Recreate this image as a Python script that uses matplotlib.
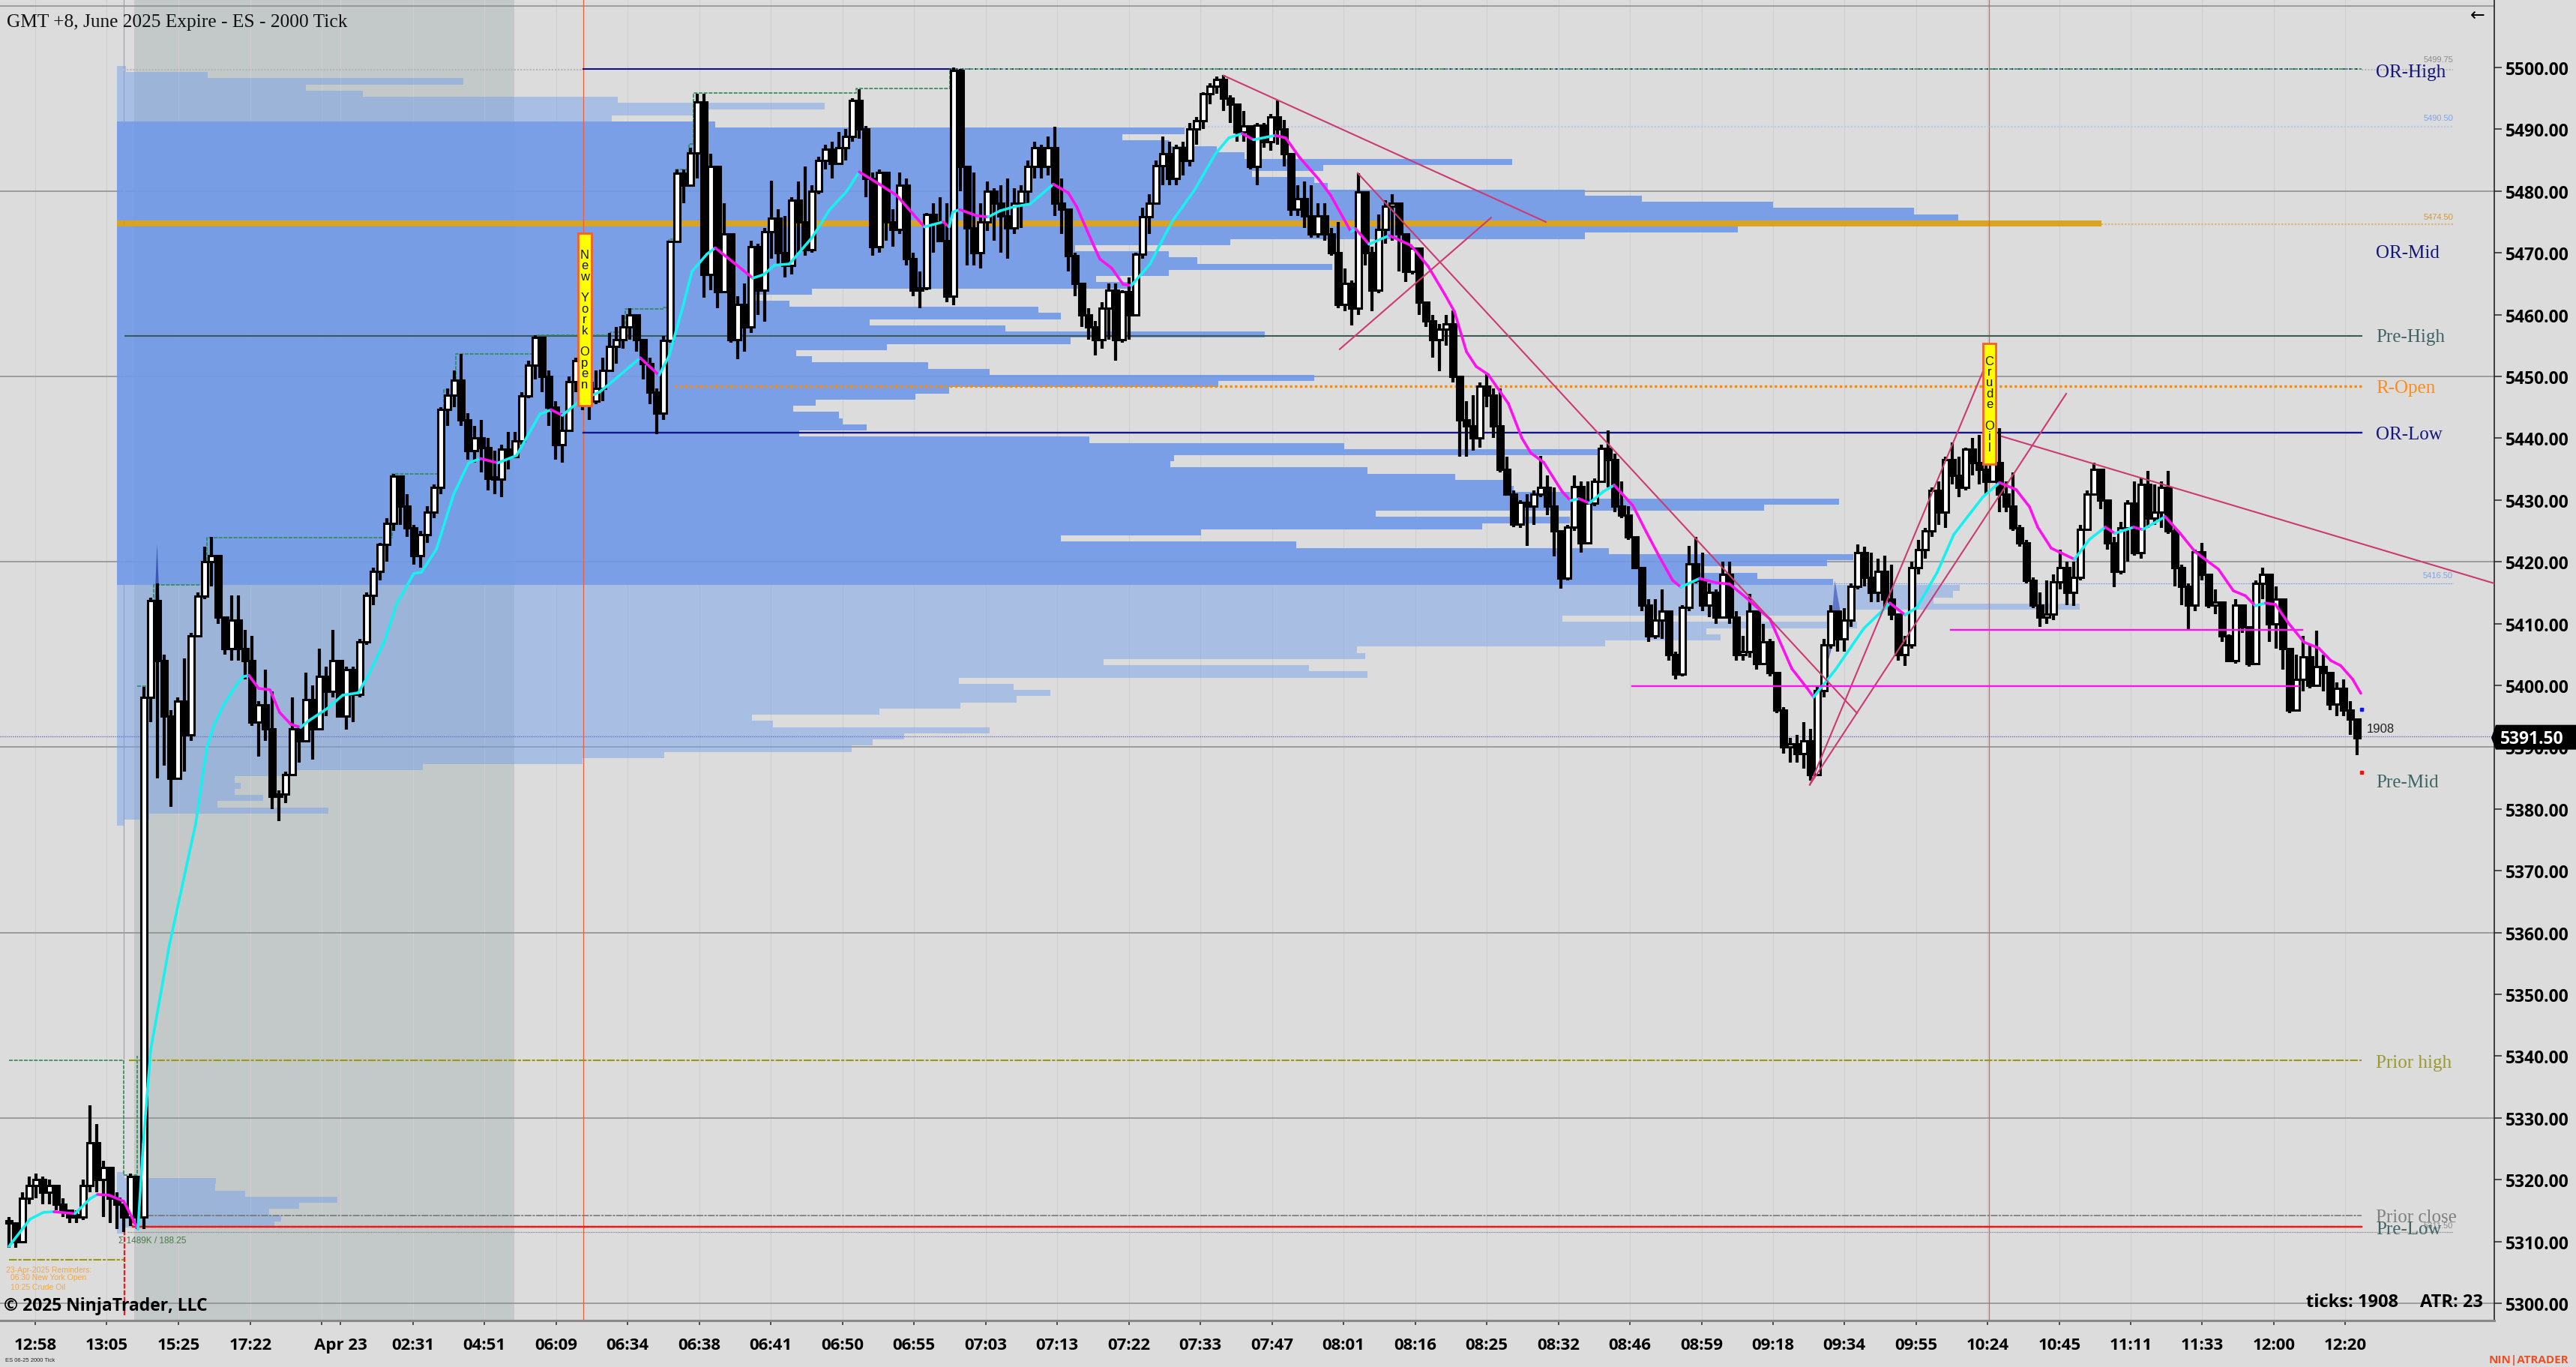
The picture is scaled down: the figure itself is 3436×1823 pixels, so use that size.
import numpy as np
import matplotlib
matplotlib.use("Agg")
import matplotlib.pyplot as plt
from matplotlib.collections import LineCollection
from matplotlib.patches import Polygon, Rectangle

# x axis is in chart columns, y axis is price
W, H = 3436, 1824
X_MAX = 3327
Y_MIN, Y_MAX = 5297.2, 5511.04

closes = [
    5313,5310,5317,5319,5320,5318,5319,5316,5315,5314,
    5314,5319,5326,5320,5322,5317,5316,5314,5320.5,5314,
    5398,5413.7,5404,5395,5385,5397.5,5392,5408,5414.4,5420,
    5421,5411,5406,5410.5,5406,5404,5394,5396.8,5393,5382,
    5382.4,5385.6,5393,5391,5397.7,5393,5401.5,5399,5404,5395,
    5402.5,5398.5,5407,5414.6,5418.4,5422.8,5426.2,5433.9,5429,5425.5,
    5421,5424.4,5428,5432,5444.6,5447,5449.4,5443,5438,5440,
    5438.5,5433.5,5433.4,5438.2,5437,5439.5,5446.9,5451.8,5456.3,5450,
    5445,5439,5441.2,5449.2,5452.6,5449,5446,5448,5451,5454.8,
    5456,5458,5460,5456,5452,5447.5,5444,5455.8,5471.8,5482.9,
    5481,5486.2,5494.4,5466.5,5484,5463.7,5473,5456,5461.7,5458,
    5471,5464,5473.4,5475.6,5470,5468,5478.5,5475,5470.5,5480,
    5485,5486.8,5484.5,5487,5488.8,5494.7,5490,5482,5471,5483,
    5475,5473.8,5481,5469,5464,5464.3,5476.2,5475,5472,5463,
    5499.5,5484,5474,5470,5475,5480,5478,5476,5474,5478,
    5480,5484,5487,5484,5487,5478,5477,5469.5,5465,5460,
    5458,5456,5461,5463.9,5456,5463.7,5460,5469.8,5475.8,5478,
    5484.1,5486,5482,5487,5485,5490,5491.4,5495.7,5497,5498,
    5495,5494,5489.5,5490.5,5484,5490.6,5488,5492,5490,5486,
    5477,5478.7,5476,5473,5476,5473,5470,5461.6,5465,5461,
    5479.9,5470,5464,5473.8,5477.5,5478,5473,5467,5470.8,5462,
    5459,5456,5457.6,5458.5,5450,5443,5442,5440,5448.4,5447,
    5442,5435,5431,5426.1,5429.6,5429,5431,5432,5429,5425,
    5417.4,5425.6,5432.2,5423,5429.5,5433,5438.4,5436.5,5429,5427.5,
    5424,5419,5413,5408,5410.5,5412,5405,5401.8,5412.6,5419.6,
    5417,5413,5415,5411,5418,5411,5405,5405.5,5412,5403.5,
    5407,5402,5396,5390,5390.5,5389,5391,5385.5,5399.2,5406.6,
    5412,5407.5,5410.5,5416,5421.5,5417.5,5415,5418.5,5414,5411.5,
    5405,5406.5,5419,5422,5425,5431.5,5428,5436.5,5434,5432,
    5438.2,5436,5435,5433,5436,5431,5429,5425.5,5423,5417,
    5413,5411,5411.5,5416.7,5419,5415,5417.5,5425.2,5431,5435,
    5430,5423,5418.5,5425.5,5429.5,5421.5,5432.5,5427,5428,5432,
    5425,5419,5416,5413,5421.6,5418,5413,5413.5,5408,5404,
    5413,5409.5,5403.5,5416.5,5418,5410,5414,5406,5396,5401,
    5404.6,5400,5403,5402,5397,5399.5,5396,5394.5,5391.5,
]
highs = [
    5314,5312,5318,5320.5,5321,5320.5,5320,5319,5317,5315,
    5315,5320,5332,5329,5323,5322,5318,5316,5321,5316,
    5399.8,5414.2,5416.5,5405,5396,5398,5404.4,5408.5,5415,5422.5,
    5424,5421,5411,5414.6,5414.6,5409,5408,5397.5,5402.5,5399,
    5383,5386,5398,5393.5,5402,5400,5406,5403,5409,5404,
    5403,5403,5407.5,5415,5419,5423,5427,5434.2,5434,5431,
    5426,5425,5429,5432.5,5445,5448,5451,5453.6,5444,5442,
    5443,5440,5438,5439,5441,5441,5447.5,5452.5,5456.7,5456,
    5451,5446,5444,5450,5453,5454,5450,5451,5453,5457,
    5458,5460,5461,5460,5456,5453,5448,5456.5,5472,5483.5,
    5483.5,5487,5495.7,5495.7,5486,5484,5478,5473,5463,5465,
    5472,5471.5,5474,5481.7,5477,5476,5479,5481.5,5484,5481,
    5485.5,5487.5,5488,5489.5,5490,5495,5496.5,5490.5,5483,5483.5,
    5480,5477,5483,5482,5470,5467,5476.5,5478,5479,5478,
    5500,5499.8,5484,5483,5478,5481.5,5480.5,5481,5482,5480.5,
    5481,5485,5488,5487.5,5488.8,5490.4,5482,5477,5470,5465,
    5461,5459,5462,5465,5465,5464,5466,5470,5477.3,5479.5,
    5485,5488.8,5488,5487.5,5488,5491,5492,5496,5497.5,5498.5,
    5498.8,5495.5,5493,5493,5490,5491,5491,5492.5,5494.7,5491.5,
    5485,5481,5481.5,5481,5478,5478,5474,5475,5467.5,5465.5,
    5482.9,5480,5471,5476.2,5478.5,5479.5,5477,5469,5471,5466,
    5461,5460,5458.5,5460,5460.7,5450,5446,5447,5449,5450.4,
    5448,5448,5437,5431.5,5430,5431,5431.5,5437.1,5434,5432,
    5421.5,5426,5434,5433,5433,5433.5,5439,5441.3,5437.5,5433,
    5429,5424,5419.2,5414,5414,5415.5,5411,5405.5,5413,5422.6,
    5424,5421.5,5416.5,5415.5,5420,5420,5412,5408,5414.8,5412,
    5410,5407.5,5400,5396.5,5391.5,5392,5394,5393,5400,5407.5,
    5413,5411,5412.5,5416.5,5422.8,5422.5,5421.5,5420.5,5421,5419.5,
    5411,5408,5420,5423.5,5425.5,5432,5433,5437,5439.3,5437,
    5438.5,5440,5440.5,5441,5441,5441.6,5433,5434.5,5426,5423.5,
    5417.5,5415,5417,5418,5422,5420,5420,5426,5431.5,5436,
    5434.5,5429,5424,5426.5,5430,5433,5433.5,5434.7,5432.5,5433,
    5434.7,5425.5,5419.5,5416.5,5422,5423,5418,5415.5,5412,5408.3,
    5414,5413,5407,5417,5419,5417.5,5416,5412,5402.5,5405,
    5408,5406.5,5408.9,5405,5402,5400.5,5401,5397.5,5394,
]
lows = [
    5309,5309,5310,5316,5317,5316,5316,5315,5314,5313,
    5313,5313.5,5318,5318,5314,5313,5312,5311.5,5312.5,5312,
    5312,5394,5385,5387,5380.3,5385,5386,5391,5408,5414,
    5416,5410,5405,5404,5404,5401,5393.5,5388.5,5391,5380,
    5378,5381,5387,5387.5,5391,5388,5393,5395,5398,5395,
    5392.8,5394,5398,5406.5,5413,5417,5420,5425,5426,5424,
    5419.5,5419,5423,5427,5431,5442,5445,5442,5436.5,5436,
    5434.5,5431.5,5431,5430.4,5435,5437.5,5439,5446.5,5449.5,5447.5,
    5442,5436.5,5436,5441,5447.5,5444.5,5443,5445.5,5446,5451,
    5452,5454.5,5456,5454,5449.5,5445.5,5440.6,5443,5455.5,5472,
    5478,5481,5482,5462.7,5464,5461,5463.5,5455.5,5452.8,5454,
    5457,5460,5458.9,5469,5468,5466,5466.5,5470,5469.5,5470,
    5479.5,5483.5,5482,5484.5,5485,5488,5488.5,5479,5469.5,5470,
    5472,5471,5473,5468,5463,5461,5464,5470,5473,5462,
    5461.5,5480,5468,5468,5467.5,5473.5,5472,5470,5469,5473,
    5474,5478,5482,5482,5482.5,5476,5473,5467,5463,5458,
    5456,5453.4,5454.5,5456,5452.5,5455.5,5456,5460,5469,5473,
    5479,5481,5481,5481,5482.5,5484,5487.5,5490,5494,5495.7,
    5493,5491,5488,5488,5483.5,5481,5487,5486.5,5487.5,5484,
    5476,5476,5474,5472.5,5472.5,5472,5469.5,5461,5460.5,5458.2,
    5460,5468,5460.5,5463.5,5471.5,5472,5467,5465.3,5466.5,5460,
    5458,5453,5450.8,5455,5449,5437,5437,5438,5438.5,5445,
    5440,5434.5,5431,5425.6,5425.5,5422.6,5426,5430.5,5427.5,5420.9,
    5415.7,5417,5425,5421.5,5424.5,5429,5433,5432,5428,5427,
    5423.5,5419,5412,5407,5407.5,5407.5,5404,5401,5401.4,5412,
    5416.5,5412,5411,5410,5412,5410,5404,5404,5404.5,5402.5,
    5405,5401.5,5395.5,5389,5387.5,5387.5,5386.5,5384.6,5385.5,5398,
    5406,5405.5,5405.5,5409.5,5415.5,5416,5413.5,5413.5,5412.5,5410.5,
    5404,5403.1,5406,5418,5420.5,5424,5426,5425.5,5432.5,5430.5,
    5431.5,5434,5432.5,5431,5433,5428,5428,5425,5422.4,5416.5,
    5412.5,5409.5,5410,5410.5,5415.5,5413,5412.9,5417,5425,5431,
    5428.5,5422,5415.9,5418,5420,5421,5420.5,5425.5,5426,5425.5,
    5424.5,5416,5413,5408.9,5412,5417,5412.5,5411.5,5407,5403.8,
    5403.5,5408.5,5403,5404,5414,5407,5406,5402.5,5395.5,5396.5,
    5399,5399.5,5401,5399,5396,5395,5395,5392,5388.7,
]

# moving average, colour follows its direction
ma_x = [12,40,58,72,100,120,130,145,165,184,191,201,226,261,276,286,299,314,324,332,345,360,373,388,401,411,437,457,
        478,493,513,529,552,562,582,605,625,641,664,689,720,735,750,773,800,820,854,879,892,910,923,943,954,986,1004,
        1019,1033,1053,1084,1106,1129,1146,1173,1196,1233,1258,1266,1271,1280,1303,1318,1334,1354,1374,1405,1425,1436,
        1458,1467,1483,1498,1509,1534,1563,1594,1621,1639,1657,1672,1701,1715,1733,1759,1775,1802,1808,1826,1853,1882,
        1905,1927,1940,1956,1969,1985,2012,2030,2042,2059,2084,2095,2106,2120,2138,2153,2178,2196,2213,2231,2242,2267,
        2289,2307,2329,2361,2390,2410,2419,2448,2486,2521,2541,2557,2584,2606,2629,2645,2667,2689,2707,2718,2736,2767,
        2787,2808,2821,2846,2858,2888,2908,2928,2959,2979,2995,3008,3022,3035,3051,3073,3093,3109,3122,3138,3149]
ma_y = [5309.2,5313.6,5314.7,5314.8,5314.5,5316.9,5317.6,5317.5,5316.5,5312,5325.7,5341,5358,5377.6,5390,5393.7,5397,5399.8,
        5401.4,5401.6,5399.5,5399.3,5395.6,5393.7,5393.2,5394.2,5396.3,5398.4,5398.8,5402,5407.2,5413.2,5418.1,5418.3,
        5422,5430.9,5436,5436.7,5436,5437.2,5443.9,5444.6,5443.7,5446,5447.5,5449.5,5453,5450.2,5453.2,5460.9,5467,5469.8,
        5470.8,5467.7,5465.9,5466.5,5468,5468.2,5472.6,5476.9,5479.9,5483.1,5481.1,5479.3,5474.2,5475,5474.2,5476.6,5477,
        5476,5475.8,5476.8,5477.5,5477.9,5481.1,5479.7,5477.5,5471.4,5469,5467.5,5464.9,5464.7,5468.2,5475,5480.3,5486,
        5488.6,5489.3,5488.3,5489,5488.6,5485.5,5481.9,5479.3,5473.4,5473.9,5471.4,5472.8,5471.2,5467.8,5463.3,5460.5,5454,
        5451.6,5450.3,5445.6,5440,5437.6,5436.1,5431.3,5429.9,5430.2,5429.5,5431.3,5432.4,5429.1,5424.8,5420.9,5417,5415.9,
        5417.3,5416.6,5416.4,5414.2,5410.7,5402.7,5399.6,5398.1,5402.5,5409.2,5413.3,5411.4,5412.6,5418.3,5424.4,5428,5430.5,
        5432.8,5431.7,5428.9,5425.6,5422.2,5420.4,5423.6,5425.6,5424.6,5425.6,5425.2,5427.3,5424.6,5421.6,5418.8,5415.3,5414.5,
        5412.9,5413.3,5413.1,5410.3,5407,5406,5404,5403.2,5401,5398.7]

# volume profile, right end of each one point row from 5499.75 downwards
profile_ends = [168,277,618,408,484,824,1100,925,816,954,
    1580,1497,1560,1623,1660,2017,1765,1670,1753,1771,
    2114,2190,2365,2553,2612,2803,2318,2114,1641,1434,
    1559,1597,1777,1559,1462,1509,1083,1008,1053,1385,
    1415,1160,1341,1687,1428,1183,1062,1083,1238,1320,
    1753,1625,1266,1221,1088,1058,1119,1124,1156,1066,
    1453,1793,2135,1566,1561,1824,1941,2011,2019,2094,
    2453,2353,1835,2094,1977,1602,1415,1729,2146,2472,
    2437,2262,2344,2445,2614,2605,2579,2774,2440,2084,
    2477,2276,2295,2141,1810,1821,1472,1746,1824,1279,
    1352,1401,1356,1281,1173,1003,1031,1320,1206,1164,
    1136,886,777,564,388,313,321,313,351,290,438,199,166]
lower_profile_ends = [166,288,287,327,450,399,359,375,366,166]
PROFILE_LEFT = 156
POC_ROW = 25
VALUE_ROWS = (9, 84)

y_ticks = list(range(5300, 5510, 10))
x_ticks = [47,142,238,334,429,454,551,646,742,837,933,1028,1124,1219,1315,1410,1506,1601,1697,1792,1888,1983,2079,
           2174,2270,2365,2460,2556,2651,2747,2842,2937,3033,3128]
x_labels = ["12:58","13:05","15:25","17:22","","Apr 23","02:31","04:51","06:09","06:34","06:38","06:41","06:50","06:55",
            "07:03","07:13","07:22","07:33","07:47","08:01","08:16","08:25","08:32","08:46","08:59","09:18","09:34",
            "09:55","10:24","10:45","11:11","11:33","12:00","12:20"]

level_names = ["OR-High","OR-Mid","Pre-High","R-Open","OR-Low","Pre-Mid","Prior high","Prior close","Pre-Low"]
level_label_y = [5499.3,5470,5456.4,5448.2,5440.6,5384.3,5338.9,5314,5312]
level_colors = ["#15157f","#15157f","#3f6464","#ff8c1a","#15157f","#3f6464","#9a9a2e","#808080","#3f6464"]

# running high trail
trail_x = [183,199,205,266,276,513,523,580,592,608,710,717,814,834,885,892,901,919,925,1142,1267,3150]
trail_y = [5399.9,5399.9,5416.3,5416.3,5423.9,5423.9,5434.2,5434.2,5447.8,5453.6,5453.6,5456.7,5457.2,5460.9,5461.2,
           5472.2,5483.5,5487.6,5495.9,5496.6,5499.75,5499.75]

# x0, p0, x1, p1
trend_lines = [(1632,5498.7,2062,5475),(1811,5482.9,2477,5395.5),(1787,5454.4,1989,5475.7),
               (2414,5383.9,2656,5454),(2414,5383.9,2756,5447.2),(2670,5440.3,3327,5416.5)]
small_labels = [("5499.75",5500.7,"#8c8c8c"),("5490.50",5491.2,"#7fa3ea"),("5474.50",5475.2,"#c79a45"),
                ("5416.50",5417.2,"#7fa3ea"),("5311.50",5312,"#8c8c8c")]

BG = "#dcdcdc"
SANS = "Open Sans"
SERIF = "Liberation Serif"

fig = plt.figure(figsize=(W / 100, H / 100), dpi=100, facecolor=BG)
ax = fig.add_axes([0, 62 / H, X_MAX / W, 1 - 62 / H], facecolor=BG)
ax.set_xlim(0, X_MAX)
ax.set_ylim(Y_MIN, Y_MAX)


def fig_text(x, y, s, **kw):
    kw.setdefault("va", "center")
    fig.text(x / W, 1 - y / H, s, **kw)


# session shade and grid
ax.axvspan(179, 686, color="#c3c8c9", lw=0, zorder=0.5)
for t in x_ticks:
    ax.axvline(t, color="#cfcfcf", lw=0.8, zorder=0.7)
for p in range(5300, 5511, 30):
    ax.axhline(p, color="#8c8c8c", lw=1.1, zorder=1)

# profiles
rows = 5499.75 - np.arange(len(profile_ends))
ends = np.array(profile_ends, dtype=float)
value = (np.arange(len(rows)) >= VALUE_ROWS[0]) & (np.arange(len(rows)) < VALUE_ROWS[1])
ax.barh(rows[~value], ends[~value] - PROFILE_LEFT, left=PROFILE_LEFT, height=1, color=(120/255, 162/255, 234/255),
        alpha=0.5, lw=0, antialiased=False, zorder=2)
ax.barh(rows[value], ends[value] - PROFILE_LEFT, left=PROFILE_LEFT, height=1, color=(111/255, 153/255, 233/255),
        alpha=0.9, lw=0, antialiased=False, zorder=2)
ax.barh(rows[POC_ROW], ends[POC_ROW] - PROFILE_LEFT, left=PROFILE_LEFT, height=1, color="#d8a426", lw=0, zorder=2.2)
low_rows = 5320.75 - np.arange(len(lower_profile_ends))
ax.barh(low_rows, np.array(lower_profile_ends) - PROFILE_LEFT, left=PROFILE_LEFT, height=1,
        color=(120/255, 162/255, 234/255), alpha=0.5, lw=0, antialiased=False, zorder=2)

# levels
ax.plot([778, 778], [Y_MIN, Y_MAX], color="#e8603c", lw=0.9, zorder=3)
ax.plot([2653, 2653], [Y_MIN, Y_MAX], color="#e8603c", lw=0.9, zorder=3)
ax.plot([165, 165], [5339.5, Y_MAX], color="#8a9be0", lw=0.8, zorder=3)
ax.plot([165, 778], [5499.6, 5499.6], color="#b5b5b5", lw=1.5, ls=(0, (1, 1)), zorder=3)
ax.plot([778, 1267], [5499.75, 5499.75], color="#10108a", lw=1.5, zorder=3)
ax.plot([3150, 3272], [5499.6, 5499.6], color="#b5b5b5", lw=1.5, ls=(0, (1, 1)), zorder=3)
ax.plot([1580, 3272], [5490.4, 5490.4], color="#b9c8ee", lw=1.6, ls=(0, (1, 1)), zorder=3)
ax.plot([2803, 3272], [5474.6, 5474.6], color="#d9b672", lw=1.6, ls=(0, (1, 1)), zorder=3)
ax.plot([167, 3150], [5456.6, 5456.6], color="#3a5a52", lw=1.5, zorder=3)
ax.plot([900, 3150], [5448.4, 5448.4], color="#ff8c00", lw=2.4, ls=(0, (1, 1)), zorder=3)
ax.plot([778, 3150], [5440.9, 5440.9], color="#15158c", lw=1.7, zorder=3)
ax.plot([2445, 3272], [5416.5, 5416.5], color="#7fa3ea", lw=0.8, ls=(0, (2, 1)), zorder=3)
ax.plot([0, X_MAX], [5391.7, 5391.7], color="#6c6cc8", lw=1.0, ls=(0, (1, 1)), zorder=3)
ax.plot([172, 3150], [5339.3, 5339.3], color="#9a9a10", lw=1.5, ls=(0, (5, 1, 2, 1)), zorder=3)
ax.plot([12, 165], [5339.3, 5339.3], color="#2e8b57", lw=1.2, ls=(0, (3, 1)), zorder=3)
ax.plot([165, 165], [5339.3, 5320.8], color="#2e8b57", lw=1.2, ls=(0, (3, 1)), zorder=3)
ax.plot([165, 183, 183], [5320.8, 5320.8, 5340], color="#2e8b57", lw=1.2, ls=(0, (3, 1)), zorder=3)
ax.plot([12, 166], [5307, 5307], color="#9a9a10", lw=1.5, ls=(0, (5, 1, 2, 1)), zorder=3)
ax.plot([165, 3150], [5314.2, 5314.2], color="#707070", lw=1.1, ls=(0, (6, 1, 2, 1)), zorder=3)
ax.plot([170, 3272], [5311.5, 5311.5], color="#777777", lw=0.8, ls=(0, (1, 1)), zorder=3)
ax.plot([166, 166, 177, 177, 3150], [5298, 5316, 5316, 5312.4, 5312.4], color="#f01818", lw=1.6, ls=(0, (3, 1)), zorder=3.1)
ax.plot([177, 3150], [5312.4, 5312.4], color="#f01818", lw=1.7, zorder=3.1)

# small blue spikes next to the fastest moves
ax.fill_between([199, 209, 218], [5392, 5423, 5396], [5392, 5415, 5396], color="#3d56b0", lw=0, zorder=3.2)
ax.fill_between([2438, 2447, 2460], [5404, 5417, 5408], [5404, 5408, 5408], color="#5d76c8", lw=0, zorder=3.2)

ax.step(trail_x, trail_y, where="post", color="#2e8b57", lw=1.2, ls=(0, (3, 1)), zorder=3.5)
ax.plot([1267, 3150], [5499.75, 5499.75], color="#10108a", lw=1.2, ls=(0, (1, 4)), zorder=3.6)

# candles
n = len(closes)
bar_x = 12 + 9 * np.arange(n)
opens = [closes[0]] + closes[:-1]
wicks = [[(x, l), (x, h)] for x, l, h in zip(bar_x, lows, highs)]
ax.add_collection(LineCollection(wicks, colors="black", linewidths=3.0, zorder=5, capstyle="butt"))
for x, o, c in zip(bar_x, opens, closes):
    ax.add_patch(Rectangle((x - 3.75, min(o, c)), 7.5, max(abs(c - o), 0.3), facecolor="white" if c > o else "black",
                           edgecolor="black", lw=2.2, zorder=5.1))

# moving average
pts = np.column_stack([ma_x, ma_y])
segs = np.stack([pts[:-1], pts[1:]], axis=1)
seg_cols = ["#18f0f0" if b >= a else "#ff10f0" for a, b in zip(ma_y[:-1], ma_y[1:])]
ax.add_collection(LineCollection(segs, colors=seg_cols, linewidths=2.6, zorder=6, capstyle="round"))

# drawn lines
for x0, p0, x1, p1 in trend_lines:
    ax.plot([x0, x1], [p0, p1], color="#cc3a70", lw=1.5, zorder=6.5)
ax.plot([2177, 3066], [5399.9, 5399.9], color="#ff10f0", lw=1.7, zorder=6.5)
ax.plot([2602, 3071], [5409, 5409], color="#ff10f0", lw=1.7, zorder=6.5)
ax.plot([3150], [5396.1], "s", color="#1010ff", ms=3, zorder=7)
ax.plot([3150], [5385.9], "s", color="#f01010", ms=3, zorder=7)

# event flags
for x0, x1, p0, p1, name in [(771, 789, 5445.3, 5473.2, "New York Open"), (2645, 2662, 5435.8, 5455.3, "Crude Oil")]:
    ax.add_patch(Rectangle((x0, p0), x1 - x0, p1 - p0, facecolor="#ffff00", edgecolor="#f4602a", lw=2, zorder=7))
    ax.text((x0 + x1) / 2, (p0 + p1) / 2, "\n".join(name), ha="center", va="center", fontsize=12,
            family="Liberation Sans", color="#111111", linespacing=0.95, zorder=7.1)

# level labels
for name, p, col in zip(level_names, level_label_y, level_colors):
    ax.text(3169, p, name, color=col, family=SERIF, fontsize=18, va="center", ha="left", zorder=8)
for s, p, col in small_labels:
    ax.text(3272, p, s, color=col, family="Liberation Sans", fontsize=8, va="bottom", ha="right", zorder=7.5)
ax.text(3157, 5393, "1908", color="#222222", family="Liberation Sans", fontsize=12, va="center", ha="left", zorder=8)
ax.text(158, 5310.2, "\u03a3 1489K / 188.25", color="#4a7a4a", family="Liberation Sans", fontsize=8.5, va="center", zorder=8)
ax.text(8, 5305.5, "23-Apr-2025 Reminders:", color="#f5a742", family="Liberation Sans", fontsize=7.5, va="center", zorder=8)
ax.text(14, 5304.2, "06:30 New York Open", color="#f5a742", family="Liberation Sans", fontsize=7.5, va="center", zorder=8)
ax.text(14, 5302.7, "10:25 Crude Oil", color="#f5a742", family="Liberation Sans", fontsize=7.5, va="center", zorder=8)

# axes
for s in ["top", "left"]:
    ax.spines[s].set_visible(False)
ax.spines["right"].set_color("#222222")
ax.spines["right"].set_linewidth(1.2)
ax.spines["bottom"].set_color("#8a8a8a")
ax.spines["bottom"].set_linewidth(2.2)
ax.yaxis.tick_right()
ax.set_yticks(y_ticks)
ax.set_yticklabels([f"{v:.2f}" for v in y_ticks], family=SANS, fontweight="bold", fontsize=16.5, color="black")
ax.tick_params(axis="y", length=7, width=1.2, color="#333333", pad=4)
ax.set_xticks(x_ticks)
ax.set_xticklabels(x_labels, family=SANS, fontweight="bold", fontsize=16, color="black")
ax.tick_params(axis="x", length=4, width=1.2, color="#333333", pad=12)

# current price tag
tag = Polygon([(X_MAX - 4, 5391.5), (X_MAX + 2, 5393.6), (3436, 5393.6), (3436, 5389.6), (X_MAX + 2, 5389.6)],
              closed=True, facecolor="black", edgecolor="none", clip_on=False, zorder=20)
ax.add_patch(tag)
ax.text(3335, 5391.4, "5391.50", color="white", family=SANS, fontweight="bold", fontsize=16.5, va="center", ha="left",
        clip_on=False, zorder=21)

fig_text(9, 30, "GMT +8, June 2025 Expire - ES - 2000 Tick", family=SERIF, fontsize=18.3, color="#111111")
fig_text(3305, 21, "\u2190", family="DejaVu Sans", fontsize=17, color="black", ha="center")
fig_text(5, 1742, "\u00a9 2025 NinjaTrader, LLC", family=SANS, fontweight="bold", fontsize=16.5, color="black")
fig_text(7, 1815, "ES 06-25 2000 Tick", family="Liberation Sans", fontsize=5.5, color="#222222")
fig_text(3076, 1737, "ticks: 1908", family=SANS, fontweight="bold", fontsize=17, color="black")
fig_text(3228, 1737, "ATR: 23", family=SANS, fontweight="bold", fontsize=17, color="black")
fig_text(3320, 1814, "NIN|ATRADER", family=SANS, fontweight="bold", fontsize=11, color="#f04e23")

fig.savefig("out.png", dpi=100, facecolor=BG)
